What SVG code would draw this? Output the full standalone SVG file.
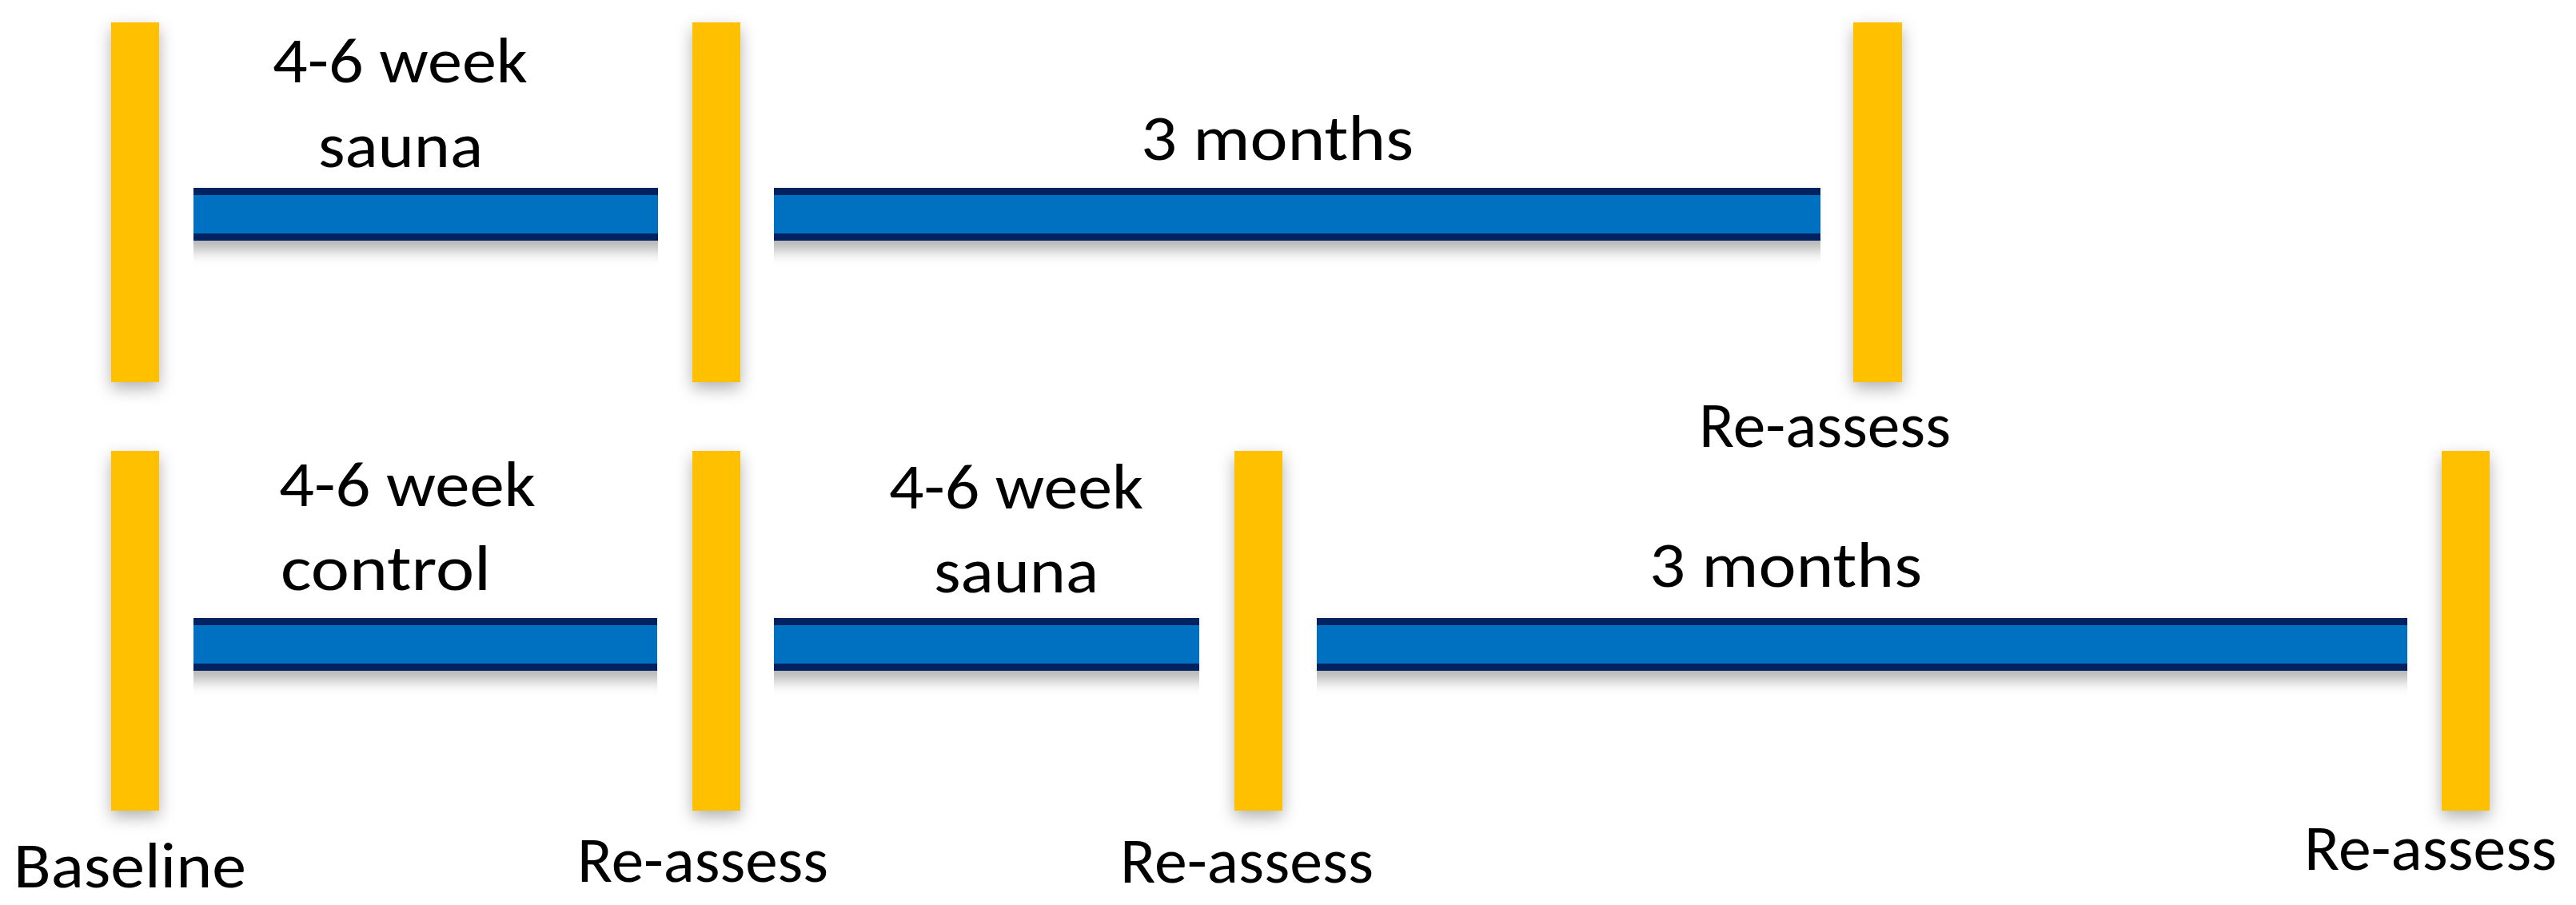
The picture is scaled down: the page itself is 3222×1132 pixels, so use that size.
<svg xmlns="http://www.w3.org/2000/svg" width="3222" height="1132" viewBox="0 0 3222 1132">
  <defs>
    <filter id="shY" x="-100%" y="-10%" width="300%" height="125%">
      <feGaussianBlur in="SourceAlpha" stdDeviation="10"/>
      <feOffset dx="0" dy="8" result="b"/>
      <feFlood flood-color="#000" flood-opacity="0.3"/>
      <feComposite in2="b" operator="in"/>
      <feMerge><feMergeNode/><feMergeNode in="SourceGraphic"/></feMerge>
    </filter>
    <filter id="shB" x="0%" y="-50%" width="100%" height="220%">
      <feGaussianBlur in="SourceAlpha" stdDeviation="0 9"/>
      <feOffset dx="0" dy="12" result="b"/>
      <feFlood flood-color="#000" flood-opacity="0.3"/>
      <feComposite in2="b" operator="in"/>
      <feMerge><feMergeNode/><feMergeNode in="SourceGraphic"/></feMerge>
    </filter>
  </defs>
  <style>
    .mark { fill: #FFC000; filter: url(#shY); }
    .edge { fill: #002060; }
    .core { fill: #0070C0; }
    .lbl { font-family: Calibri, Carlito, "Open Sans", "Noto Sans", sans-serif; font-size: 80px; fill: #000; }
  </style>
  <rect width="3222" height="1132" fill="#fff"/>

  <g id="connectors">
    <g filter="url(#shB)">
      <rect class="edge" x="242" y="235" width="581" height="66"/>
      <rect class="core" x="242" y="244" width="581" height="48"/>
    </g>
    <g filter="url(#shB)">
      <rect class="edge" x="968" y="235" width="1309" height="66"/>
      <rect class="core" x="968" y="244" width="1309" height="48"/>
    </g>
    <g filter="url(#shB)">
      <rect class="edge" x="242" y="773" width="580" height="66"/>
      <rect class="core" x="242" y="782" width="580" height="48"/>
    </g>
    <g filter="url(#shB)">
      <rect class="edge" x="968" y="773" width="532" height="66"/>
      <rect class="core" x="968" y="782" width="532" height="48"/>
    </g>
    <g filter="url(#shB)">
      <rect class="edge" x="1647" y="773" width="1364" height="66"/>
      <rect class="core" x="1647" y="782" width="1364" height="48"/>
    </g>
  </g>

  <g id="top-baseline">
    <rect class="mark" x="139" y="28" width="60" height="450"/>
  </g>
  <g id="top-reassess-1">
    <rect class="mark" x="866" y="28" width="60" height="450"/>
  </g>
  <g id="top-reassess-2">
    <rect class="mark" x="2318" y="28" width="61" height="450"/>
    <text class="lbl" x="2125" y="559" textLength="315" lengthAdjust="spacingAndGlyphs">Re-assess</text>
  </g>

  <g id="bottom-baseline">
    <rect class="mark" x="139" y="564" width="60" height="450"/>
    <text class="lbl" x="17" y="1110" textLength="291" lengthAdjust="spacingAndGlyphs">Baseline</text>
  </g>
  <g id="bottom-reassess-1">
    <rect class="mark" x="866" y="564" width="60" height="450"/>
    <text class="lbl" x="722" y="1103" textLength="314" lengthAdjust="spacingAndGlyphs">Re-assess</text>
  </g>
  <g id="bottom-reassess-2">
    <rect class="mark" x="1544" y="564" width="60" height="450"/>
    <text class="lbl" x="1401" y="1104" textLength="317" lengthAdjust="spacingAndGlyphs">Re-assess</text>
  </g>
  <g id="bottom-reassess-3">
    <rect class="mark" x="3054" y="564" width="60" height="450"/>
    <text class="lbl" x="2882" y="1088" textLength="316" lengthAdjust="spacingAndGlyphs">Re-assess</text>
  </g>

  <g id="labels">
    <text class="lbl" x="341" y="103" textLength="319" lengthAdjust="spacingAndGlyphs">4-6 week</text>
    <text class="lbl" x="398" y="209" textLength="206" lengthAdjust="spacingAndGlyphs">sauna</text>
    <text class="lbl" x="1427" y="200" textLength="341" lengthAdjust="spacingAndGlyphs">3 months</text>
    <text class="lbl" x="349" y="633" textLength="321" lengthAdjust="spacingAndGlyphs">4-6 week</text>
    <text class="lbl" x="351" y="738" textLength="263" lengthAdjust="spacingAndGlyphs">control</text>
    <text class="lbl" x="1112" y="636" textLength="318" lengthAdjust="spacingAndGlyphs">4-6 week</text>
    <text class="lbl" x="1168" y="741" textLength="206" lengthAdjust="spacingAndGlyphs">sauna</text>
    <text class="lbl" x="2063" y="734" textLength="341" lengthAdjust="spacingAndGlyphs">3 months</text>
  </g>
</svg>
